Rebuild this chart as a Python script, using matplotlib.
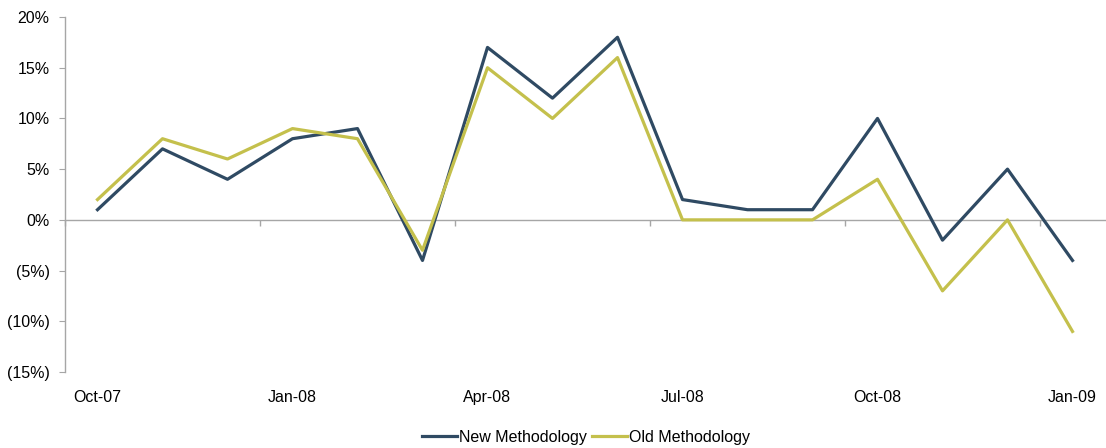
import matplotlib
import matplotlib.pyplot as plt
from matplotlib.ticker import FuncFormatter

matplotlib.use("Agg")

plt.rcParams['font.family'] = ['Liberation Sans', 'DejaVu Sans']

months = ['Oct-07', 'Nov-07', 'Dec-07', 'Jan-08', 'Feb-08', 'Mar-08', 'Apr-08', 'May-08',
          'Jun-08', 'Jul-08', 'Aug-08', 'Sep-08', 'Oct-08', 'Nov-08', 'Dec-08', 'Jan-09']
new_method = [1, 7, 4, 8, 9, -4, 17, 12, 18, 2, 1, 1, 10, -2, 5, -4]
old_method = [2, 8, 6, 9, 8, -3, 15, 10, 16, 0, 0, 0, 4, -7, 0, -11]

NAVY = '#2f4a63'
OLIVE = '#c4c04c'
GRID = '#a6a6a6'
FS = 11.5

fig = plt.figure(figsize=(11.06, 4.48), dpi=100)
ax = fig.add_axes([65 / 1106, 76 / 448, 1040 / 1106, 355 / 448])

x = list(range(len(months)))
ax.plot(x, new_method, color=NAVY, lw=2.3, label='New Methodology', zorder=3)
ax.plot(x, old_method, color=OLIVE, lw=2.3, label='Old Methodology', zorder=3)

ymin, ymax = -15, 20
ax.set_xlim(-0.5, len(months) - 0.5)
ax.set_ylim(ymin, ymax)

# y axis, accounting-style negatives
ax.set_yticks(range(ymin, ymax + 1, 5))
ax.yaxis.set_major_formatter(FuncFormatter(
    lambda v, p: f'{v:.0f}%' if v >= 0 else f'({-v:.0f}%)'))
ax.tick_params(axis='y', length=4, color=GRID, labelsize=FS, pad=7)

# category labels every 3 months, no tick marks at the bottom
ax.set_xticks(x[::3])
ax.set_xticklabels(months[::3])
ax.tick_params(axis='x', length=0, labelsize=FS, pad=13)

for side in ['top', 'right', 'bottom']:
    ax.spines[side].set_visible(False)
ax.spines['left'].set_color(GRID)
ax.spines['left'].set_linewidth(1)

# zero line with tick marks between quarters
zero_frac = (0 - ymin) / (ymax - ymin)
sec = ax.secondary_xaxis(zero_frac)
sec.set_xticks([i - 0.5 for i in x[::3]])
sec.set_xticklabels([])
sec.tick_params(length=4, color=GRID, width=1)
sec.spines['bottom'].set_color(GRID)
sec.spines['bottom'].set_linewidth(1)

fig.legend(loc='center', bbox_to_anchor=(586 / 1106, 1 - 437 / 448), ncol=2, frameon=False,
           fontsize=FS, handlelength=2.2, handletextpad=0.15, columnspacing=0.3)

fig.savefig('out.png', dpi=100)
